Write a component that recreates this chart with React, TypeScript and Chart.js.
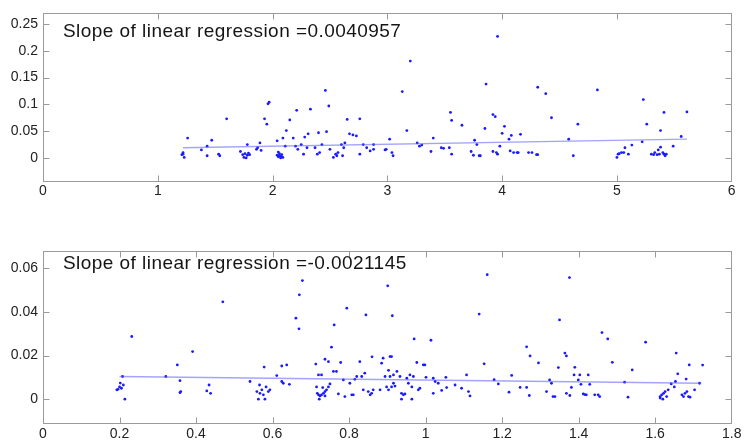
import React, { useEffect, useRef } from "react";
import { Chart, registerables } from "chart.js";
Chart.register(...registerables);

// ---------- top panel data ----------
const topX = [
  1.21, 1.22, 1.22, 1.23, 1.26, 1.38, 1.43, 1.43, 1.47, 1.53, 1.54, 1.60,
  1.72, 1.74, 1.75, 1.76, 1.78, 1.79, 1.78, 1.80, 1.77,
  1.86, 1.87, 1.89, 1.90, 1.93, 1.95, 1.96, 1.97,
  2.04, 2.05, 2.06, 2.07, 2.08, 2.09, 2.05, 2.07, 2.06,
  2.04, 2.09, 2.11, 2.12, 2.15, 2.18, 2.20, 2.21, 2.22,
  2.25, 2.27, 2.28, 2.30, 2.31, 2.33, 2.37, 2.39, 2.40, 2.41, 2.43, 2.46, 2.49, 2.47,
  2.50, 2.53, 2.55, 2.56, 2.57, 2.60, 2.61, 2.62, 2.63, 2.65, 2.67, 2.70, 2.73, 2.76,
  2.76, 2.79, 2.82, 2.85, 2.88,
  2.88, 2.98, 2.99, 3.02, 3.05, 3.04, 3.13, 3.17, 3.20,
  3.26, 3.28, 3.30, 3.38, 3.40, 3.47, 3.49, 3.54, 3.56, 3.55, 3.56, 3.65,
  3.73, 3.75, 3.76, 3.78, 3.80, 3.81, 3.85, 3.86, 3.92, 3.94, 3.96,
  3.92, 3.95, 3.96, 3.98, 4.00, 4.02, 4.06, 4.07, 4.08, 4.10, 4.13, 4.14, 4.16,
  4.23, 4.26, 4.30, 4.31, 4.31, 4.38, 4.43, 4.58, 4.62, 4.66, 4.83,
  5.00, 5.01, 5.02, 5.04, 5.06, 5.07, 5.10, 5.13, 5.22, 5.23, 5.26,
  5.30, 5.32, 5.33, 5.35, 5.36, 5.37, 5.38, 5.40, 5.41, 5.42, 5.43,
  5.38, 5.41, 5.49, 5.56, 5.61,
];
const topY = [
  0.006, 0.007, 0.010, 0.001, 0.037, 0.015, 0.022, 0.004, 0.033, 0.007, 0.004, 0.073,
  0.012, 0.006, 0.001, 0.008, 0.005, 0.009, 0.025, 0.006, 0.000,
  0.016, 0.019, 0.028, 0.014, 0.073, 0.063, 0.101, 0.104,
  0.005, 0.002, 0.008, 0.003, 0.006, 0.001, 0.011, 0.000, 0.004,
  0.032, 0.037, 0.022, 0.051, 0.071, 0.037, 0.022, 0.089, 0.016,
  0.025, 0.007, 0.039, 0.019, 0.045, 0.091, 0.019, 0.007, 0.047, 0.010, 0.025, 0.126, 0.097, 0.049,
  0.016, 0.001, 0.007, 0.004, 0.010, 0.025, 0.004, 0.019, 0.028, 0.072, 0.045, 0.043, 0.041, 0.073,
  0.007, 0.025, 0.019, 0.013, 0.025,
  0.016, 0.015, 0.016, 0.035, 0.004, 0.010, 0.124, 0.051, 0.181,
  0.028, 0.022, 0.024, 0.012, 0.037, 0.019, 0.018, 0.019, 0.007, 0.085, 0.070, 0.061,
  0.012, 0.005, 0.033, 0.025, 0.004, 0.004, 0.055, 0.138, 0.081, 0.077, 0.227,
  0.012, 0.010, 0.007, 0.022, 0.046, 0.059, 0.035, 0.013, 0.042, 0.010, 0.010, 0.010, 0.044,
  0.010, 0.010, 0.006, 0.006, 0.132, 0.120, 0.075, 0.035, 0.004, 0.063, 0.127,
  0.001, 0.007, 0.008, 0.010, 0.010, 0.019, 0.007, 0.024, 0.030, 0.109, 0.063,
  0.007, 0.006, 0.010, 0.006, 0.015, 0.007, 0.020, 0.010, 0.007, 0.004, 0.007,
  0.051, 0.085, 0.022, 0.040, 0.086,
];
const topFitX = [1.22, 5.61];
const topFitY = [0.019, 0.035];
const topLabel = "Slope of linear regression =0.0040957";
const topXTicks = [0, 1, 2, 3, 4, 5, 6];
const topYTicks = [0, 0.05, 0.1, 0.15, 0.2, 0.25];
const topXRange = [0, 6];
const topYRange = [-0.045, 0.27];

// ---------- bottom panel data ----------
const botX = [
  0.193, 0.196, 0.200, 0.202, 0.205, 0.210, 0.214, 0.208, 0.232, 0.321, 0.351, 0.358, 0.360, 0.358, 0.391,
  0.428, 0.434, 0.438, 0.470, 0.541,
  0.559, 0.563, 0.566, 0.567, 0.572, 0.576, 0.580, 0.583, 0.589, 0.593, 0.578, 0.611, 0.624, 0.637, 0.624, 0.628, 0.644,
  0.661, 0.669, 0.670, 0.678, 0.713,
  0.715, 0.717, 0.720, 0.722, 0.724, 0.728, 0.733, 0.737, 0.737, 0.731, 0.741, 0.746, 0.720, 0.728, 0.737, 0.746, 0.754, 0.761,
  0.759, 0.750, 0.767, 0.772, 0.785, 0.789, 0.794, 0.778,
  0.802, 0.807, 0.811, 0.815, 0.820, 0.828, 0.833, 0.837, 0.844, 0.841, 0.850, 0.855, 0.860,
  0.859, 0.863, 0.881, 0.885, 0.889, 0.894, 0.898, 0.903, 0.907, 0.911, 0.916, 0.920, 0.925, 0.901, 0.913, 0.903, 0.907, 0.911, 0.916,
  0.933, 0.937, 0.942, 0.946, 0.951, 0.955, 0.959, 0.964, 0.968, 0.937, 0.964, 0.970,
  0.977, 0.981, 0.985, 0.994, 0.998, 1.001, 1.014,
  1.020, 1.025, 1.020, 1.033, 1.042, 1.053, 1.055, 1.077, 1.094, 1.107, 1.112, 1.116,
  1.140, 1.153, 1.161, 1.179, 1.190,
  1.218, 1.225, 1.247, 1.264, 1.264, 1.273, 1.271, 1.295,
  1.316, 1.324, 1.329, 1.333, 1.338, 1.350, 1.347, 1.364, 1.368, 1.368, 1.377, 1.376,
  1.381, 1.388, 1.390, 1.399, 1.403, 1.406, 1.412, 1.416, 1.420, 1.425, 1.429, 1.442, 1.451, 1.455,
  1.461, 1.476, 1.488, 1.520, 1.529, 1.540, 1.575,
  1.613, 1.617, 1.622, 1.626, 1.613, 1.620, 1.630, 1.634, 1.642, 1.650, 1.653, 1.655, 1.659,
  1.670, 1.674, 1.678, 1.683, 1.687, 1.691, 1.681, 1.689, 1.703, 1.716, 1.724,
];
const botY = [
  0.0043, 0.0045, 0.0056, 0.0074, 0.0050, 0.0065, 0.0, 0.0104, 0.0287, 0.0104, 0.0157, 0.0085, 0.0035, 0.003, 0.0218,
  0.0038, 0.0065, 0.0027, 0.0446, 0.0081,
  0.0035, 0.0, 0.0065, 0.0027, 0.0043, 0.002, 0.0, 0.0056, 0.0035, 0.0043, 0.0147, 0.0108, 0.0152, 0.0157, 0.0081, 0.0073, 0.0068,
  0.0371, 0.0322, 0.0478, 0.0543, 0.0161,
  0.0056, 0.0027, 0.002, 0.0, 0.0015, 0.002, 0.0027, 0.0035, 0.0015, 0.0053, 0.0043, 0.0056, 0.0111, 0.0111, 0.0183, 0.0172, 0.0238, 0.034,
  0.0127, 0.0070, 0.0127, 0.0024, 0.0088, 0.0012, 0.0417, 0.0168,
  0.0073, 0.002, 0.002, 0.0091, 0.0104, 0.0172, 0.0104, 0.0043, 0.0386, 0.0119, 0.0035, 0.002, 0.0194,
  0.0027, 0.0043, 0.0043, 0.0165, 0.0188, 0.0104, 0.0056, 0.0043, 0.0195, 0.0195, 0.0111, 0.0060, 0.0127, 0.0519, 0.0382, 0.0132, 0.0104, 0.0056, 0.0073,
  0.0104, 0.0027, 0.002, 0.0024, 0.0096, 0.0073, 0.0111, 0.0056, 0.0104, 0.0, 0.0, 0.0276,
  0.0168, 0.0043, 0.005, 0.0157, 0.0157, 0.0100, 0.027,
  0.0096, 0.0081, 0.0027, 0.0073, 0.004, 0.0100, 0.0053, 0.0065, 0.005, 0.0111, 0.0035, 0.0015,
  0.039, 0.0162, 0.057, 0.0089, 0.0070,
  0.0032, 0.0109, 0.0054, 0.024, 0.0054, 0.0198, 0.0017, 0.0166,
  0.0035, 0.0088, 0.0073, 0.0012, 0.0012, 0.0363, 0.0145, 0.0211, 0.0198, 0.0027, 0.0017, 0.0557,
  0.0054, 0.0111, 0.0146, 0.0088, 0.0111, 0.0068, 0.0024, 0.0021, 0.002, 0.0111, 0.0068, 0.002, 0.002, 0.0012,
  0.0305, 0.0276, 0.0169, 0.0078, 0.0009, 0.0134, 0.0261,
  0.0012, 0.002, 0.0027, 0.0035, 0.0005, 0.0, 0.0012, 0.0043, 0.007, 0.0056, 0.0081, 0.0211, 0.0116,
  0.002, 0.0012, 0.0027, 0.0035, 0.0012, 0.0009, 0.0092, 0.0157, 0.0043, 0.0073, 0.0156,
];
const botFitX = [0.2, 1.72];
const botFitY = [0.0104, 0.0073];
const botLabel = "Slope of linear regression =-0.0021145";
const botXTicks = [0, 0.2, 0.4, 0.6, 0.8, 1, 1.2, 1.4, 1.6, 1.8];
const botYTicks = [0, 0.02, 0.04, 0.06];
const botXRange = [0, 1.8];
const botYRange = [-0.0115, 0.068];

const FONT = "'Liberation Sans', Arial, Helvetica, sans-serif";
const fmt = (v: number) => String(Number(Number(v).toFixed(4)));

const framePlugin = {
  id: "frame",
  afterDraw(chart: any, _args: any, opts: any) {
    const { ctx, chartArea: a, scales } = chart;
    const L = Math.round(a.left) + 0.5;
    const R = Math.round(a.right) - 0.5;
    const T = Math.round(a.top) + 0.5;
    const B = Math.round(a.bottom) - 0.5;
    ctx.save();
    ctx.strokeStyle = "#9b9b9b";
    ctx.lineWidth = 1;
    ctx.strokeRect(L, T, R - L, B - T);
    const tl = 6;
    ctx.beginPath();
    for (const t of scales.x.ticks) {
      const px = Math.round(scales.x.getPixelForValue(t.value)) + 0.5;
      if (px <= L + 1 || px >= R - 1) continue;
      ctx.moveTo(px, B);
      ctx.lineTo(px, B - tl);
      ctx.moveTo(px, T);
      ctx.lineTo(px, T + tl);
    }
    for (const t of scales.y.ticks) {
      const py = Math.round(scales.y.getPixelForValue(t.value)) + 0.5;
      if (py <= T + 1 || py >= B - 1) continue;
      ctx.moveTo(L, py);
      ctx.lineTo(L + tl, py);
      ctx.moveTo(R, py);
      ctx.lineTo(R - tl, py);
    }
    ctx.stroke();
    ctx.fillStyle = "#151515";
    ctx.font = `19px ${FONT}`;
    try { (ctx as any).letterSpacing = "0.45px"; } catch (e) {}
    ctx.textBaseline = "alphabetic";
    ctx.textAlign = "left";
    ctx.fillText(opts.label, a.left + 20, a.top + opts.textOffset);
    ctx.restore();
  },
};

type PanelProps = {
  xs: number[]; ys: number[]; fitX: number[]; fitY: number[];
  label: string; xTicks: number[]; yTicks: number[];
  xRange: number[]; yRange: number[];
  top: number; height: number; padTop: number; axisH: number; textOffset: number;
};

function Panel(p: PanelProps) {
  const ref = useRef<HTMLCanvasElement | null>(null);
  useEffect(() => {
    if (!ref.current) return;
    const pts = p.xs.map((x, i) => ({ x, y: p.ys[i] }));
    const fit = p.fitX.map((x, i) => ({ x, y: p.fitY[i] }));
    const tickFont = { family: FONT, size: 14 };
    const chart = new Chart(ref.current, {
      type: "scatter",
      data: {
        datasets: [
          {
            type: "line",
            data: fit,
            borderColor: "rgba(90,90,255,0.55)",
            borderWidth: 1.3,
            pointRadius: 0,
            fill: false,
          } as any,
          {
            data: pts,
            pointRadius: 1.4,
            pointBorderWidth: 0,
            pointBackgroundColor: "#1a1aff",
            backgroundColor: "#1a1aff",
          },
        ],
      },
      options: {
        animation: false,
        responsive: false,
        devicePixelRatio: 1,
        layout: { padding: { top: p.padTop, right: 15.3, left: 0, bottom: 0 } },
        plugins: {
          legend: { display: false },
          tooltip: { enabled: false },
          frame: { label: p.label, textOffset: p.textOffset },
        } as any,
        scales: {
          x: {
            type: "linear",
            min: p.xRange[0],
            max: p.xRange[1],
            afterBuildTicks: (s: any) => { s.ticks = p.xTicks.map((v) => ({ value: v })); },
            afterFit: (s: any) => { s.height = p.axisH; },
            ticks: { callback: (v: any) => fmt(v), font: tickFont, color: "#222", padding: 1, maxRotation: 0, autoSkip: false },
            grid: { display: false, drawTicks: false },
            border: { display: false },
          },
          y: {
            type: "linear",
            min: p.yRange[0],
            max: p.yRange[1],
            afterBuildTicks: (s: any) => { s.ticks = p.yTicks.map((v) => ({ value: v })); },
            afterFit: (s: any) => { s.width = 43; },
            ticks: { callback: (v: any) => fmt(v), font: tickFont, color: "#222", padding: 5, autoSkip: false },
            grid: { display: false, drawTicks: false },
            border: { display: false },
          },
        },
      },
      plugins: [framePlugin],
    });
    return () => chart.destroy();
  }, []);
  return (
    <canvas
      ref={ref}
      width={747}
      height={p.height}
      style={{ position: "absolute", left: 0, top: p.top, width: 747, height: p.height }}
    />
  );
}

export default function App() {
  return (
    <div style={{ position: "fixed", left: 0, top: 0, width: 747, height: 444, background: "#fff", overflow: "hidden" }}>
      <Panel xs={topX} ys={topY} fitX={topFitX} fitY={topFitY} label={topLabel}
        xTicks={topXTicks} yTicks={topYTicks} xRange={topXRange} yRange={topYRange}
        top={0} height={210} padTop={9} axisH={28} textOffset={24} />
      <Panel xs={botX} ys={botY} fitX={botFitX} fitY={botFitY} label={botLabel}
        xTicks={botXTicks} yTicks={botYTicks} xRange={botXRange} yRange={botYRange}
        top={230} height={214} padTop={20.7} axisH={19.7} textOffset={18.6} />
    </div>
  );
}
